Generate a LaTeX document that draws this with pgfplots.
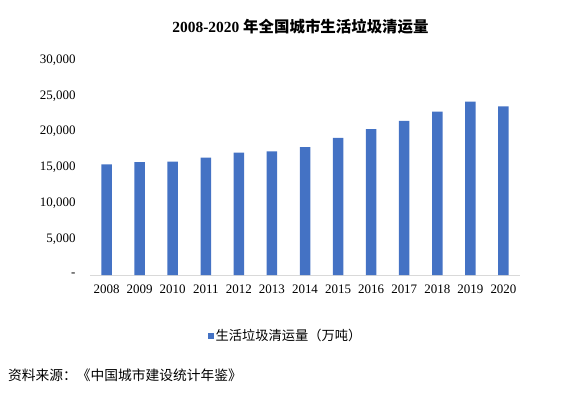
\documentclass[border=0pt]{standalone}
\usepackage{fontspec}
\setmainfont{Liberation Serif}
\newfontfamily\cjk{Noto Sans CJK SC}
\usepackage{pgfplots}
\pgfplotsset{compat=1.18}
\definecolor{barblue}{HTML}{4472C4}
\definecolor{axgray}{HTML}{D9D9D9}
\begin{document}
\begin{tikzpicture}[x=1bp,y=1bp]
\useasboundingbox (0,0) rectangle (571,393);
\begin{axis}[
  at={(90bp,118bp)}, anchor=south west,
  scale only axis, width=430bp, height=215bp,
  xmin=-0.5, xmax=12.5, ymin=0, ymax=30000,
  axis lines=left, axis line style={-},
  x axis line style={draw=axgray, line width=0.8pt},
  y axis line style={draw=none},
  major tick length=0pt,
  scaled y ticks=false,
  xtick=data,
  xticklabels={2008,2009,2010,2011,2012,2013,2014,2015,2016,2017,2018,2019,2020},
  ytick={0,5000,10000,15000,20000,25000,30000},
  yticklabels={-,{5,000},{10,000},{15,000},{20,000},{25,000},{30,000}},
  tick label style={font=\fontsize{13}{15}\selectfont},
  /pgf/number format/assume math mode=true,
  yticklabel style={anchor=east, xshift=-11bp},
  xticklabel style={yshift=-6bp},
  ybar, bar width=10.5bp,
  legend style={at={(0.455,-0.284)}, anchor=center, draw=none, fill=none,
    font=\cjk\fontsize{13.3}{15}\selectfont, inner sep=0pt},
  legend image code/.code={\fill[barblue] (0bp,-2.8bp) rectangle (5.5bp,2.8bp);},
]
\addplot[fill=barblue, draw=none] coordinates {
(0,15438) (1,15734) (2,15805) (3,16395) (4,17081) (5,17239) (6,17860)
(7,19142) (8,20362) (9,21521) (10,22802) (11,24206) (12,23512)};
\addlegendentry{生活垃圾清运量（万吨）}
\end{axis}
\node[anchor=center, font=\fontsize{15.5}{18}\selectfont\bfseries] at (300.5,366) {2008-2020 {\cjk 年全国城市生活垃圾清运量}};
\node[anchor=west, inner sep=0pt, font=\cjk\fontsize{13.8}{16}\selectfont] at (8,18) {资料来源：《中国城市建设统计年鉴》};
\end{tikzpicture}
\end{document}
